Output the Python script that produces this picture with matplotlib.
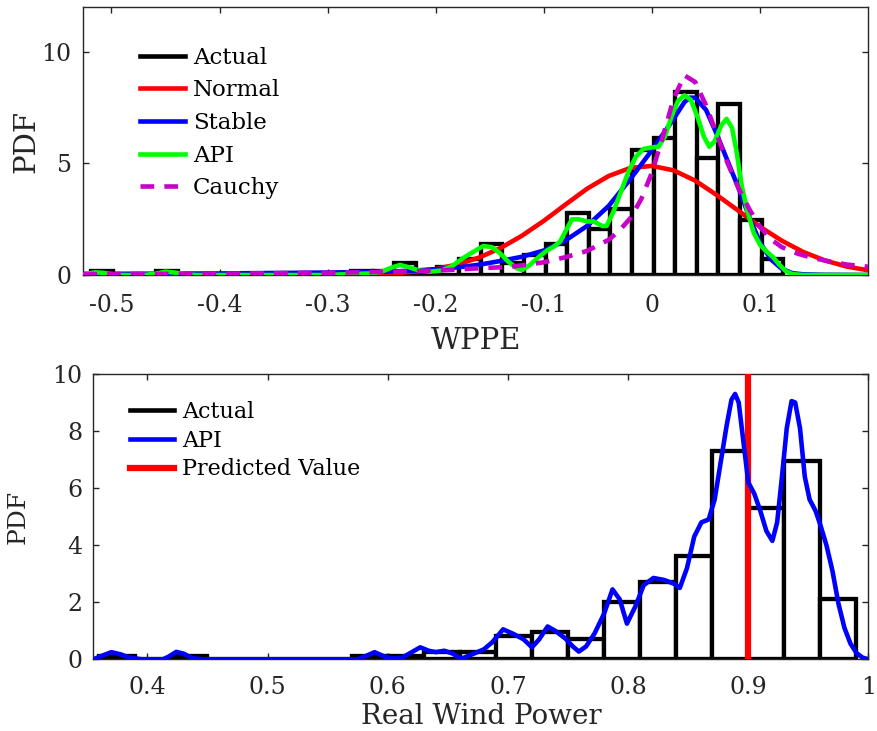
import numpy as np
import matplotlib
matplotlib.use("Agg")
import matplotlib.pyplot as plt
from matplotlib.lines import Line2D

plt.rcParams['font.family'] = 'serif'
plt.rcParams['font.serif'] = ['DejaVu Serif']

# ---------------- WPPE panel data ----------------
wppe_bin_start = -0.5185
wppe_bin_width = 0.02
wppe_density = [0.18, 0, 0, 0.18, 0, 0, 0, 0, 0, 0, 0, 0,
                0.18, 0.18, 0.53, 0.18, 0.35, 0.70, 1.41, 0.53, 0.88, 1.41,
                2.80, 2.05, 2.95, 5.62, 6.12, 8.20, 5.24, 7.68, 2.45, 0.70]

normal_x = [-0.526, -0.40, -0.34, -0.30, -0.28, -0.26, -0.24, -0.22, -0.20, -0.18,
            -0.16, -0.14, -0.12, -0.10, -0.08, -0.06, -0.04, -0.02, 0.00, 0.02,
            0.04, 0.06, 0.08, 0.10, 0.12, 0.14, 0.16, 0.18, 0.20]
normal_y = [0.0, 0.0, 0.002, 0.008, 0.016, 0.034, 0.073, 0.146, 0.27, 0.47,
            0.78, 1.21, 1.77, 2.43, 3.16, 3.87, 4.44, 4.80, 4.89, 4.69,
            4.23, 3.58, 2.88, 2.16, 1.54, 1.03, 0.65, 0.38, 0.21]

stable_x = [-0.526, -0.45, -0.40, -0.35, -0.30, -0.26, -0.24, -0.22, -0.20, -0.18,
            -0.16, -0.14, -0.12, -0.10, -0.08, -0.06, -0.04, -0.02, 0.00, 0.01,
            0.02, 0.03, 0.035, 0.04, 0.05, 0.06, 0.07, 0.08, 0.09, 0.10,
            0.11, 0.12, 0.13, 0.14, 0.16, 0.20]
stable_y = [0.05, 0.06, 0.07, 0.09, 0.11, 0.14, 0.16, 0.20, 0.26, 0.34,
            0.46, 0.63, 0.82, 1.10, 1.55, 2.20, 3.10, 4.30, 5.60, 6.30,
            7.00, 7.75, 7.95, 7.95, 7.40, 6.30, 5.10, 3.90, 2.60, 1.45,
            0.70, 0.28, 0.08, 0.03, 0.01, 0.0]

api_x = [-0.526, -0.52, -0.515, -0.508, -0.50, -0.49, -0.47, -0.46, -0.45, -0.44,
         -0.43, -0.42, -0.30, -0.28, -0.26, -0.25, -0.24, -0.233, -0.225, -0.215,
         -0.205, -0.195, -0.185, -0.175, -0.165, -0.156, -0.148, -0.14, -0.133, -0.125,
         -0.12, -0.113, -0.105, -0.097, -0.09, -0.085, -0.079, -0.074, -0.068, -0.06,
         -0.054, -0.046, -0.042, -0.036, -0.029, -0.022, -0.015, -0.008, 0.0, 0.006,
         0.012, 0.018, 0.024, 0.03, 0.036, 0.042, 0.048, 0.053, 0.058, 0.064,
         0.069, 0.074, 0.078, 0.083, 0.088, 0.094, 0.10, 0.106, 0.112, 0.118,
         0.124, 0.13, 0.14, 0.20]
api_y = [0.02, 0.08, 0.12, 0.10, 0.04, 0.0, 0.0, 0.05, 0.15, 0.10,
         0.02, 0.0, 0.0, 0.04, 0.07, 0.15, 0.35, 0.45, 0.35, 0.20,
         0.15, 0.20, 0.40, 0.75, 1.05, 1.30, 1.25, 0.95, 0.60, 0.30,
         0.22, 0.45, 0.80, 1.10, 1.30, 1.50, 2.05, 2.50, 2.50, 2.40,
         2.40, 2.20, 2.20, 2.80, 3.70, 4.60, 5.30, 5.65, 5.72, 5.75,
         6.20, 7.10, 7.80, 8.05, 7.85, 7.10, 6.20, 5.75, 6.00, 6.70,
         7.00, 6.60, 5.60, 4.00, 2.90, 1.90, 1.35, 1.05, 0.80, 0.45,
         0.17, 0.04, 0.0, 0.0]

cauchy_x = [-0.526, -0.45, -0.40, -0.35, -0.30, -0.26, -0.22, -0.19, -0.16, -0.13,
            -0.10, -0.08, -0.06, -0.04, -0.03, -0.02, -0.01, 0.00, 0.01, 0.02,
            0.03, 0.04, 0.05, 0.06, 0.07, 0.08, 0.09, 0.10, 0.11, 0.12,
            0.135, 0.15, 0.165, 0.18, 0.20]
cauchy_y = [0.04, 0.05, 0.06, 0.08, 0.10, 0.13, 0.17, 0.22, 0.30, 0.37,
            0.57, 0.80, 1.08, 1.58, 2.00, 2.55, 3.40, 4.60, 6.20, 7.90,
            8.95, 8.65, 7.60, 6.30, 5.00, 3.90, 2.95, 2.15, 1.60, 1.25,
            0.95, 0.75, 0.60, 0.47, 0.37]

wppe_xticks = [-0.5, -0.4, -0.3, -0.2, -0.1, 0, 0.1]
wppe_xticklabels = ['-0.5', '-0.4', '-0.3', '-0.2', '-0.1', '0', '0.1']
wppe_yticks = [0, 5, 10]

# ---------------- Real wind power panel data ----------------
power_bin_start = 0.36
power_bin_width = 0.03
power_density = [0.12, 0, 0.12, 0, 0, 0, 0, 0.12, 0.12, 0.24, 0.24,
                 0.82, 0.94, 0.70, 2.00, 2.70, 3.62, 7.30, 5.32, 6.95, 2.10]

power_api_x = [0.355, 0.362, 0.37, 0.378, 0.385, 0.395, 0.413, 0.418, 0.424, 0.43,
               0.437, 0.445, 0.575, 0.582, 0.589, 0.596, 0.603, 0.612, 0.62, 0.627,
               0.634, 0.64, 0.647, 0.654, 0.661, 0.669, 0.68, 0.687, 0.696, 0.705,
               0.713, 0.72, 0.726, 0.733, 0.74, 0.748, 0.754, 0.759, 0.765, 0.772,
               0.78, 0.787, 0.793, 0.799, 0.806, 0.813, 0.821, 0.83, 0.838, 0.843,
               0.849, 0.855, 0.861, 0.867, 0.872, 0.877, 0.882, 0.886, 0.889, 0.892,
               0.896, 0.90, 0.905, 0.91, 0.915, 0.92, 0.924, 0.928, 0.932, 0.936,
               0.939, 0.943, 0.947, 0.951, 0.956, 0.96, 0.965, 0.97, 0.975, 0.98,
               0.985, 0.99, 0.995, 1.0]
power_api_y = [0.0, 0.12, 0.25, 0.17, 0.06, 0.0, 0.0, 0.10, 0.26, 0.20,
               0.05, 0.0, 0.0, 0.12, 0.25, 0.12, 0.02, 0.06, 0.25, 0.42,
               0.30, 0.25, 0.30, 0.20, 0.02, 0.15, 0.35, 0.60, 1.05, 0.88,
               0.70, 0.42, 0.70, 1.15, 0.98, 0.72, 0.45, 0.27, 0.45, 0.90,
               1.60, 2.45, 2.10, 1.25, 1.85, 2.60, 2.85, 2.78, 2.65, 2.50,
               3.20, 4.30, 4.80, 4.90, 5.60, 6.90, 8.20, 9.10, 9.30, 9.00,
               7.60, 6.20, 5.80, 5.20, 4.50, 4.15, 4.80, 6.40, 8.10, 9.05,
               9.00, 8.10, 6.40, 5.60, 5.20, 4.70, 4.00, 3.10, 1.95, 1.10,
               0.55, 0.22, 0.06, 0.0]

predicted_value = 0.9

power_xticks = [0.4, 0.5, 0.6, 0.7, 0.8, 0.9, 1.0]
power_xticklabels = ['0.4', '0.5', '0.6', '0.7', '0.8', '0.9', '1']
power_yticks = [0, 2, 4, 6, 8, 10]

# ---------------- styling ----------------
axis_color = '#262626'
magenta = '#c800c8'
curve_lw = 3.3
bar_lw = 3.1
dash = (0, (3.0, 2.2))


def style_axes(ax, tick_size, pad_x, pad_y):
    for s in ax.spines.values():
        s.set_linewidth(1.0)
        s.set_color(axis_color)
    ax.tick_params(direction='in', top=True, right=True, length=4.5, width=1.0,
                   colors=axis_color, labelsize=tick_size)
    ax.tick_params(axis='x', pad=pad_x)
    ax.tick_params(axis='y', pad=pad_y)


fig = plt.figure(figsize=(8.77, 7.31), dpi=100)

# ---- top panel: WPPE distribution fits ----
ax1 = fig.add_axes([0.095, 0.6238, 0.895, 0.3662])
edges1 = wppe_bin_start + wppe_bin_width * np.arange(len(wppe_density))
ax1.bar(edges1, wppe_density, width=wppe_bin_width, align='edge',
        facecolor='white', edgecolor='black', linewidth=bar_lw, zorder=2)
ax1.plot(normal_x, normal_y, color='red', lw=curve_lw, zorder=3)
ax1.plot(stable_x, stable_y, color='blue', lw=curve_lw, zorder=4)
ax1.plot(api_x, api_y, color='#00ff00', lw=curve_lw, zorder=5)
ax1.plot(cauchy_x, cauchy_y, color=magenta, lw=curve_lw, ls=dash, zorder=6)
ax1.set_xlim(-0.526, 0.2)
ax1.set_ylim(0, 12)
ax1.set_xticks(wppe_xticks)
ax1.set_xticklabels(wppe_xticklabels)
ax1.set_yticks(wppe_yticks)
style_axes(ax1, 17, 14, 8.5)
ax1.set_xlabel('WPPE', fontsize=21, color=axis_color, labelpad=7)
ax1.set_ylabel('PDF', fontsize=21, color=axis_color, labelpad=1)

handles1 = [Line2D([], [], color='black', lw=curve_lw),
            Line2D([], [], color='red', lw=curve_lw),
            Line2D([], [], color='blue', lw=curve_lw),
            Line2D([], [], color='#00ff00', lw=curve_lw),
            Line2D([], [], color=magenta, lw=curve_lw, ls=dash)]
ax1.legend(handles1, ['Actual', 'Normal', 'Stable', 'API', 'Cauchy'],
           loc='upper left', bbox_to_anchor=(0.072, 0.852), frameon=False,
           fontsize=16.5, handlelength=1.96, handletextpad=0.35, labelspacing=0.46,
           borderpad=0, borderaxespad=0)

# ---- bottom panel: real wind power ----
ax2 = fig.add_axes([0.1064, 0.0981, 0.8839, 0.3903])
edges2 = power_bin_start + power_bin_width * np.arange(len(power_density))
ax2.bar(edges2, power_density, width=power_bin_width, align='edge',
        facecolor='white', edgecolor='black', linewidth=bar_lw, zorder=2)
ax2.plot(power_api_x, power_api_y, color='blue', lw=curve_lw, zorder=4)
ax2.axvline(predicted_value, color='red', lw=4.5, zorder=3)
ax2.set_xlim(0.355, 1.0)
ax2.set_ylim(0, 10)
ax2.set_xticks(power_xticks)
ax2.set_xticklabels(power_xticklabels)
ax2.set_yticks(power_yticks)
style_axes(ax2, 17, 12, 8)
ax2.set_xlabel('Real Wind Power', fontsize=20, color=axis_color, labelpad=3)
ax2.set_ylabel('PDF', fontsize=18, color=axis_color, labelpad=16)

handles2 = [Line2D([], [], color='black', lw=curve_lw),
            Line2D([], [], color='blue', lw=curve_lw),
            Line2D([], [], color='red', lw=4.5)]
ax2.legend(handles2, ['Actual', 'API', 'Predicted Value'],
           loc='upper left', bbox_to_anchor=(0.047, 0.905), frameon=False,
           fontsize=16, handlelength=2.0, handletextpad=0.36, labelspacing=0.3,
           borderpad=0, borderaxespad=0)

fig.savefig('out.png', dpi=100)
